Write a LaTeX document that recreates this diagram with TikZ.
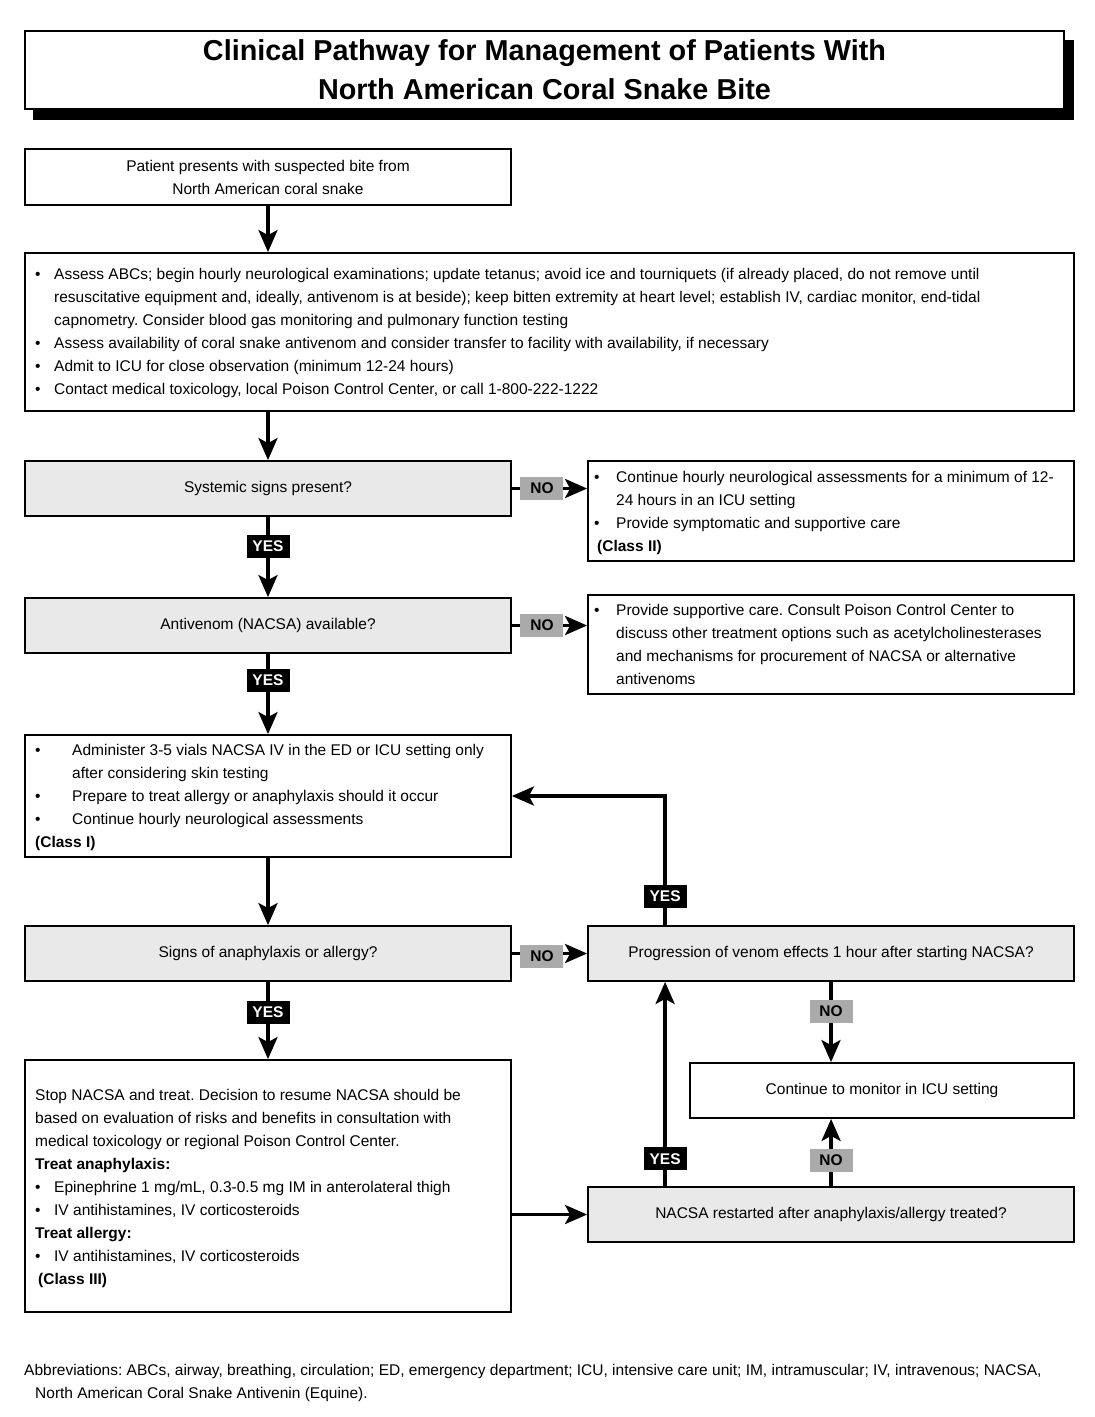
\documentclass[tikz,border=0pt]{standalone}
\usepackage{fontspec}
\setmainfont{Liberation Sans}
\usetikzlibrary{arrows.meta,shadows,calc}
\definecolor{boxgray}{RGB}{233,233,233}
\definecolor{labgray}{RGB}{170,170,170}
\newcommand{\bu}[1][19pt]{\makebox[#1][l]{\textbullet}}
\newcommand{\ind}[1][19pt]{\hspace*{#1}}
\frenchspacing
\begin{document}
\begin{tikzpicture}[x=1pt,y=-1pt,
  box/.style={draw=black, line width=1.8pt, inner sep=0pt, font=\fontsize{15.5}{23}\selectfont},
  qbox/.style={box, fill=boxgray},
  txt/.style={anchor=north west, inner sep=0pt, font=\fontsize{15.5}{23}\selectfont},
  arr/.style={line width=3.6pt, -{Stealth[length=22pt,width=19pt,inset=5pt]}},
  yeslab/.style={fill=black, text=white, font=\fontsize{15.5}{17}\selectfont\bfseries, minimum width=43pt, minimum height=23pt, inner sep=0pt},
  nolab/.style={fill=labgray, text=black, font=\fontsize{15.5}{17}\selectfont\bfseries, minimum width=43pt, minimum height=23pt, inner sep=0pt}
]
\useasboundingbox[fill=white] (0,0) rectangle (1095,1417);

% title
\fill[black] (33,40) rectangle (1074,120);
\node[box, fill=white, minimum width=1039pt, minimum height=78pt, align=center,
  font=\fontsize{28.8}{39}\selectfont\bfseries] (title) at (544.5,70)
  {Clinical Pathway for Management of Patients With\\North American Coral Snake Bite};

% boxes
\node[box, minimum width=486pt, minimum height=56pt, align=center] (b1) at (268,177)
  {Patient presents with suspected bite from\\North American coral snake};
\node[box, minimum width=1049pt, minimum height=158pt] (b2) at (549.5,332) {};
\node[txt] (t2) at (35,263) {\begin{tabular}{@{}l@{}}
\bu Assess ABCs; begin hourly neurological examinations; update tetanus; avoid ice and tourniquets (if already placed, do not remove until\\
\ind resuscitative equipment and, ideally, antivenom is at beside); keep bitten extremity at heart level; establish IV, cardiac monitor, end-tidal\\
\ind capnometry. Consider blood gas monitoring and pulmonary function testing\\
\bu Assess availability of coral snake antivenom and consider transfer to facility with availability, if necessary\\
\bu Admit to ICU for close observation (minimum 12-24 hours)\\
\bu Contact medical toxicology, local Poison Control Center, or call 1-800-222-1222
\end{tabular}};

\node[qbox, minimum width=486pt, minimum height=55pt] (q1) at (268,488.5) {Systemic signs present?};
\node[box, minimum width=486pt, minimum height=100pt] (r1) at (831,511) {};
\node[txt] (tr1) at (594,466) {\begin{tabular}{@{}l@{}}
\bu[22pt]Continue hourly neurological assessments for a minimum of 12-\\
\ind[22pt]24 hours in an ICU setting\\
\bu[22pt]Provide symptomatic and supportive care\\
\hspace*{3pt}\textbf{(Class II)}
\end{tabular}};

\node[qbox, minimum width=486pt, minimum height=55pt] (q2) at (268,625.5) {Antivenom (NACSA) available?};
\node[box, minimum width=486pt, minimum height=99pt] (r2) at (831,644.5) {};
\node[txt] (tr2) at (594,599) {\begin{tabular}{@{}l@{}}
\bu[22pt]Provide supportive care. Consult Poison Control Center to\\
\ind[22pt]discuss other treatment options such as acetylcholinesterases\\
\ind[22pt]and mechanisms for procurement of NACSA or alternative\\
\ind[22pt]antivenoms
\end{tabular}};

\node[box, minimum width=486pt, minimum height=122pt] (b5) at (268,796) {};
\node[txt] (t5) at (35,739) {\begin{tabular}{@{}l@{}}
\bu[37pt]Administer 3-5 vials NACSA IV in the ED or ICU setting only\\
\ind[37pt]after considering skin testing\\
\bu[37pt]Prepare to treat allergy or anaphylaxis should it occur\\
\bu[37pt]Continue hourly neurological assessments\\
\textbf{(Class I)}
\end{tabular}};

\node[qbox, minimum width=486pt, minimum height=55pt] (q3) at (268,953.5) {Signs of anaphylaxis or allergy?};
\node[qbox, minimum width=486pt, minimum height=55pt] (q4) at (831,953.5) {Progression of venom effects 1 hour after starting NACSA?};

\node[box, minimum width=486pt, minimum height=252pt] (b7) at (268,1186) {};
\node[txt] (t7) at (35,1084) {\begin{tabular}{@{}l@{}}
Stop NACSA and treat. Decision to resume NACSA should be\\
based on evaluation of risks and benefits in consultation with\\
medical toxicology or regional Poison Control Center.\\
\textbf{Treat anaphylaxis:}\\
\bu Epinephrine 1 mg/mL, 0.3-0.5 mg IM in anterolateral thigh\\
\bu IV antihistamines, IV corticosteroids\\
\textbf{Treat allergy:}\\
\bu IV antihistamines, IV corticosteroids\\
\hspace*{3pt}\textbf{(Class III)}
\end{tabular}};

\node[box, minimum width=384pt, minimum height=55pt] (b8) at (882,1090.5) {Continue to monitor in ICU setting};
\node[qbox, minimum width=486pt, minimum height=55pt] (q5) at (831,1214.5) {NACSA restarted after anaphylaxis/allergy treated?};

% abbreviations
\node[txt] (abbr) at (24,1359) {\begin{tabular}{@{}l@{}}
Abbreviations: ABCs, airway, breathing, circulation; ED, emergency department; ICU, intensive care unit; IM, intramuscular; IV, intravenous; NACSA,\\
\hspace*{11pt}North American Coral Snake Antivenin (Equine).
\end{tabular}};

% connector anchor points
\coordinate (c4) at ($(q4.north west)+(78,0)$);
\coordinate (c4s) at ($(q4.south west)+(78,0)$);
\coordinate (c5a) at ($(q5.north west)+(78,0)$);
\coordinate (c5b) at ($(q5.north west)+(244,0)$);

% connectors
\draw[arr] (b1.south) -- (b2.north -| b1.south);
\draw[arr] (b2.south -| q1.north) -- (q1.north);
\draw[arr] (q1.east) -- node[nolab, pos=0.4] (n1) {NO} (r1.west |- q1.east);
\draw[arr] (q1.south) -- node[yeslab, pos=0.37] (y1) {YES} (q2.north);
\draw[arr] (q2.east) -- node[nolab, pos=0.4] (n2) {NO} (r2.west |- q2.east);
\draw[arr] (q2.south) -- node[yeslab, pos=0.33] (y2) {YES} (b5.north);
\draw[arr] (b5.south) -- (q3.north);
\draw[arr] (q3.east) -- node[nolab, pos=0.4, yshift=-3pt] (n3) {NO} (q4.west);
\draw[arr] (q3.south) -- node[yeslab, pos=0.39] (y3) {YES} (b7.north);
\draw[arr] (c4) |- node[yeslab, pos=0.112] (y4) {YES} (b5.east);
\draw[arr] (q4.south) -- node[nolab, pos=0.37] (n4) {NO} (q4.south |- b8.north);
\draw[arr] (c5a) -- node[yeslab, pos=0.133] (y5) {YES} (c4s);
\draw[arr] (c5b) -- node[nolab, pos=0.384] (n5) {NO} (c5b |- b8.south);
\draw[arr] (q5.west -| b7.east) -- (q5.west);
\end{tikzpicture}
\end{document}
